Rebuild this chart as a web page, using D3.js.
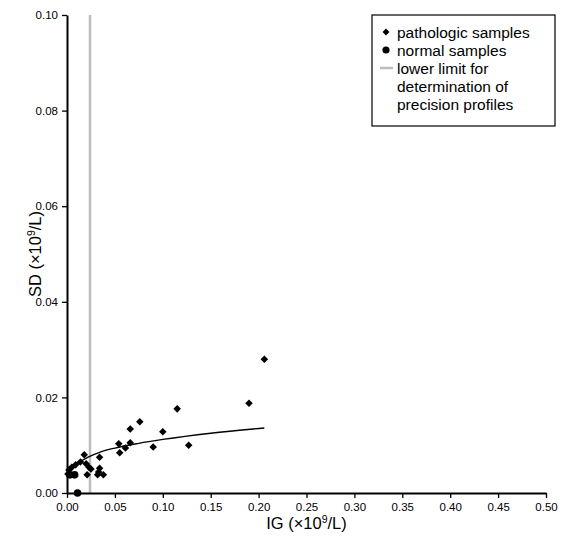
<!DOCTYPE html>
<html><head><meta charset="utf-8">
<script src="https://cdn.jsdelivr.net/npm/d3@7"></script>
<style>body{margin:0;background:#fff;} svg{display:block;font-family:"Liberation Sans",Arial,sans-serif;}</style>
</head><body>
<script>
// Data
const pathologic = [
  [0.206,0.0280],[0.190,0.0188],[0.115,0.0176],[0.076,0.0149],[0.066,0.0134],
  [0.100,0.0128],[0.054,0.0103],[0.066,0.0105],[0.061,0.0094],[0.055,0.0084],
  [0.090,0.0096],[0.127,0.0100],[0.034,0.0075],[0.018,0.0080],[0.020,0.0061],
  [0.023,0.0054],[0.025,0.0050],[0.034,0.0052],[0.021,0.0038],[0.033,0.0044],
  [0.032,0.0038],[0.038,0.0038],[0.001,0.0040],[0.002,0.0048],[0.005,0.0054],
  [0.009,0.0059],[0.014,0.0065]
];
const normal = [[0.003,0.0038],[0.008,0.0038],[0.011,0.0000]];
const fitCurve = [[0.002,0.0042],[0.010,0.0060],[0.022,0.0075],[0.034,0.0085],[0.050,0.0094],
  [0.075,0.0104],[0.100,0.0112],[0.150,0.0125],[0.206,0.0136]];
const lowerLimit = 0.024;
const xTicks = [0,0.05,0.10,0.15,0.20,0.25,0.30,0.35,0.40,0.45,0.50];
const yTicks = [0,0.02,0.04,0.06,0.08,0.10];
const legendItems = ["pathologic samples","normal samples","lower limit for","determination of","precision profiles"];

const W=563,H=539, m={l:67,t:15,r:17,b:46};
const svg=d3.select("body").append("svg").attr("width",W).attr("height",H);
const x=d3.scaleLinear().domain([0,0.5]).range([m.l,W-m.r]);
const y=d3.scaleLinear().domain([0,0.1]).range([H-m.b,m.t]);

// lower limit line
svg.append("line").attr("x1",x(lowerLimit)).attr("x2",x(lowerLimit)).attr("y1",y(0)).attr("y2",y(0.1))
  .attr("stroke","#bdbdbd").attr("stroke-width",2.5);

// axes
const xa=svg.append("g").attr("transform",`translate(0,${y(0)})`)
  .call(d3.axisBottom(x).tickValues(xTicks).tickFormat(d3.format(".2f")).tickSize(5).tickSizeOuter(0));
const ya=svg.append("g").attr("transform",`translate(${x(0)},0)`)
  .call(d3.axisLeft(y).tickValues(yTicks).tickFormat(d3.format(".2f")).tickSize(5).tickSizeOuter(0));
[xa,ya].forEach(g=>{
  g.select(".domain").attr("stroke","#000").attr("stroke-width",2);
  g.selectAll(".tick line").attr("stroke","#000").attr("stroke-width",1.3);
  g.selectAll("text").attr("font-size",11.5).attr("fill","#000").attr("font-family","'Liberation Sans', Arial, sans-serif");
});
xa.selectAll("text").attr("dy","0.85em");
ya.selectAll("text").attr("x",-9);

// fit curve
svg.append("path").datum(fitCurve).attr("fill","none").attr("stroke","#000").attr("stroke-width",1.3)
  .attr("d",d3.line().x(d=>x(d[0])).y(d=>y(d[1])).curve(d3.curveMonotoneX));

// points
const diamond=d3.symbol().type(d3.symbolDiamond2).size(36);
svg.append("g").selectAll("path").data(pathologic).join("path")
  .attr("transform",d=>`translate(${x(d[0])},${y(d[1])})`).attr("d",diamond).attr("fill","#000");
svg.append("g").selectAll("circle").data(normal).join("circle")
  .attr("cx",d=>x(d[0])).attr("cy",d=>y(d[1])).attr("r",3.8).attr("fill","#000");

// axis titles
const xt=svg.append("text").attr("x",(x(0)+x(0.5))/2).attr("y",529).attr("text-anchor","middle")
  .attr("font-size",16.5).attr("fill","#000");
xt.append("tspan").text("IG (\u00d710");
xt.append("tspan").attr("font-size",10.5).attr("dy",-6).text("9");
xt.append("tspan").attr("dy",6).text("/L)");
const yt=svg.append("text").attr("transform",`translate(41,${(y(0)+y(0.1))/2}) rotate(-90)`)
  .attr("text-anchor","middle").attr("font-size",16.5).attr("fill","#000");
yt.append("tspan").text("SD (\u00d710");
yt.append("tspan").attr("font-size",10.5).attr("dy",-6).text("9");
yt.append("tspan").attr("dy",6).text("/L)");

// legend
const lg=svg.append("g");
lg.append("rect").attr("x",372).attr("y",15).attr("width",183).attr("height",111)
  .attr("fill","#fff").attr("stroke","#000").attr("stroke-width",1.2);
const ly=[32,50,68,86,104];
legendItems.forEach((t,i)=>{
  lg.append("text").attr("x",397).attr("y",ly[i]+5.5).attr("font-size",15.5).attr("fill","#000").text(t);
});
lg.append("path").attr("transform",`translate(386,${ly[0]})`).attr("d",d3.symbol().type(d3.symbolDiamond2).size(30)).attr("fill","#000");
lg.append("circle").attr("cx",386).attr("cy",ly[1]).attr("r",3.6).attr("fill","#000");
lg.append("line").attr("x1",380).attr("x2",393).attr("y1",ly[2]).attr("y2",ly[2]).attr("stroke","#bdbdbd").attr("stroke-width",2.5);
</script>
</body></html>
